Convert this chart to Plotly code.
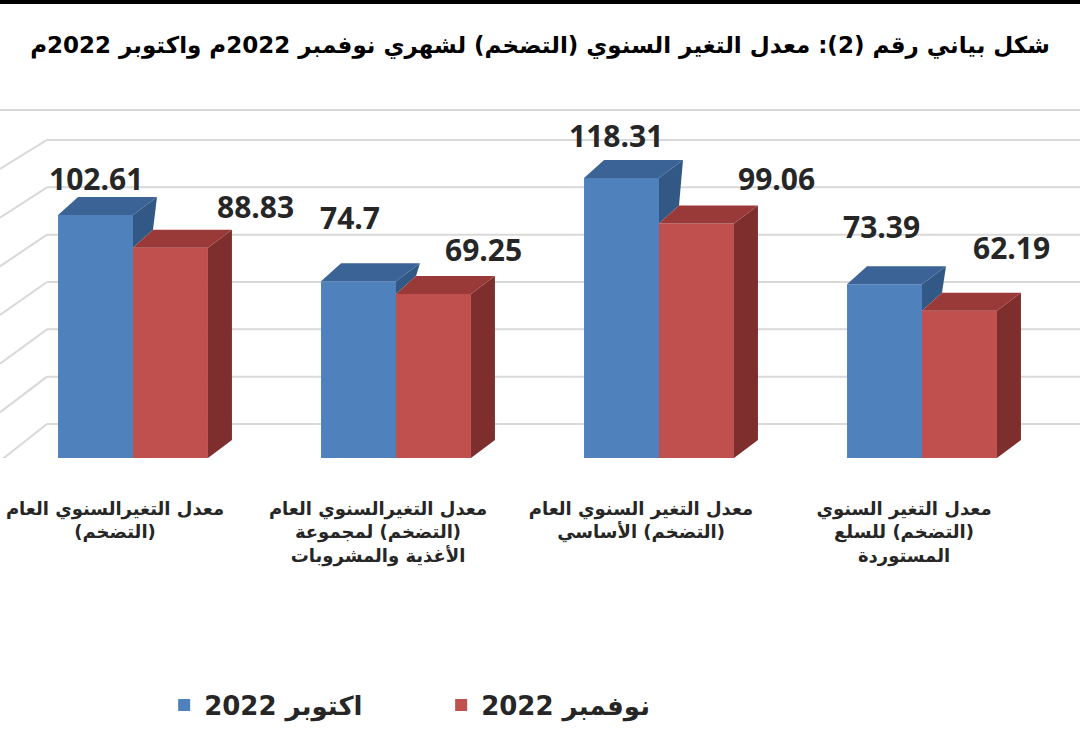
import plotly.graph_objects as go

# ---------------- data ----------------
categories = [
    "معدل التغيرالسنوي العام<br>(التضخم)",
    "معدل التغيرالسنوي العام<br>(التضخم) لمجموعة<br>الأغذية والمشروبات",
    "معدل التغير السنوي العام<br>(التضخم) الأساسي",
    "معدل التغير السنوي<br>(التضخم) للسلع<br>المستوردة",
]
oct_2022 = [102.61, 74.7, 118.31, 73.39]
nov_2022 = [88.83, 69.25, 99.06, 62.19]
series_names = ["اكتوبر 2022", "نوفمبر 2022"]
wall_ticks = [0, 20, 40, 60, 80, 100, 120]
title_text = "شكل بياني رقم (2): معدل التغير السنوي (التضخم) لشهري نوفمبر 2022م واكتوبر 2022م"

# ---------------- geometry / style ----------------
W, H = 1080, 751
PLOT_TOP, PLOT_BOTTOM = 110, 458
PX_PER_X = 263.0          # pixels per category
X0_PX = 133.0             # pixel of first category center
PX_PER_Y = 2.367          # pixels per value unit
BARGAP = 0.43
bar_w = (1 - BARGAP) / 2

x_range = [-X0_PX / PX_PER_X, (W - X0_PX) / PX_PER_X]
y_range = [0, (PLOT_BOTTOM - PLOT_TOP) / PX_PER_Y]

dxl = 20 / PX_PER_X   # depth offset (left edge of top face)
dxr = 24 / PX_PER_X   # depth offset (right edges)
dz = 18 / PX_PER_Y    # depth offset upward

wall_dz = 34 / PX_PER_Y
wall_left = (47 - X0_PX) / PX_PER_X

BLUE, BLUE_TOP, BLUE_SIDE = "#4F81BD", "#3B6396", "#325886"
RED, RED_TOP, RED_SIDE = "#C0504D", "#9A3A38", "#7E2E2D"
GRID = "#D9D9D9"
TEXT = "#262626"
RLM = "\u200f"


def rtl(label):
    return "<br>".join(f"{RLM}{line}{RLM}" for line in label.split("<br>"))


fig = go.Figure()

idx = list(range(len(categories)))

fig.add_trace(go.Bar(x=idx, y=oct_2022, name=f"<b>{series_names[0]}</b>",
                     marker=dict(color=BLUE, line=dict(width=0))))
fig.add_trace(go.Bar(x=idx, y=nov_2022, name=f"<b>{series_names[1]}</b>",
                     marker=dict(color=RED, line=dict(width=0))))


def poly(xs, ys, color):
    fig.add_trace(go.Scatter(x=xs + [xs[0]], y=ys + [ys[0]], mode="lines", fill="toself",
                             fillcolor=color, line=dict(width=0, color=color),
                             hoverinfo="skip", showlegend=False))


for i, (b, r) in enumerate(zip(oct_2022, nov_2022)):
    bl, br = i - bar_w, i
    rl, rr = i, i + bar_w
    low = min(b, r)
    poly([br, br + dxl, br + dxr, br], [low, low + dz, b + dz, b], BLUE_SIDE)
    poly([bl, br, br + dxr, bl + dxl], [b, b, b + dz, b + dz], BLUE_TOP)
    poly([rr, rr + dxr, rr + dxr, rr], [0, dz, r + dz, r], RED_SIDE)
    poly([rl, rr, rr + dxr, rl + dxl], [r, r, r + dz, r + dz], RED_TOP)

# back wall gridlines (below the bars)
shapes = []
for v in wall_ticks:
    yv = v + wall_dz
    frac = (v - wall_ticks[0]) / (wall_ticks[-1] - wall_ticks[0])
    drop = (37 - 8 * frac) / PX_PER_Y
    shapes.append(dict(type="line", xref="x", yref="y", layer="below",
                       x0=wall_left, y0=yv, x1=x_range[1], y1=yv,
                       line=dict(color=GRID, width=2)))
    shapes.append(dict(type="line", xref="x", yref="y", layer="below",
                       x0=wall_left, y0=yv, x1=x_range[0], y1=yv - drop,
                       line=dict(color=GRID, width=2)))
shapes.append(dict(type="line", xref="paper", yref="paper", x0=0, x1=1, y0=1, y1=1,
                   line=dict(color=GRID, width=2)))
shapes.append(dict(type="rect", xref="paper", yref="paper", x0=0, x1=1,
                   y0=1 + (PLOT_TOP - 4) / (PLOT_BOTTOM - PLOT_TOP), y1=1 + PLOT_TOP / (PLOT_BOTTOM - PLOT_TOP),
                   fillcolor="black", line=dict(width=0)))

# data labels
blue_dx = [0, -9, -6, -3]
blue_dy = [14, 41, 20, 35]
red_dx = [85, 50, 80, 52]
red_dy = [19, 22, 23, 41]
annotations = []
for i, (b, r) in enumerate(zip(oct_2022, nov_2022)):
    annotations.append(dict(x=i - bar_w / 2, y=b, xref="x", yref="y", text=f"<b>{b:g}</b>",
                            showarrow=False, yanchor="bottom", xshift=blue_dx[i], yshift=blue_dy[i],
                            font=dict(family="Open Sans", size=30, color=TEXT)))
    annotations.append(dict(x=i + bar_w / 2, y=r, xref="x", yref="y", text=f"<b>{r:g}</b>",
                            showarrow=False, yanchor="bottom", xshift=red_dx[i], yshift=red_dy[i],
                            font=dict(family="Open Sans", size=30, color=TEXT)))

label_shift = 18 / PX_PER_X

fig.update_layout(
    width=W, height=H,
    margin=dict(l=0, r=0, t=PLOT_TOP, b=H - PLOT_BOTTOM, pad=0, autoexpand=False),
    paper_bgcolor="white", plot_bgcolor="white",
    barmode="group", bargap=BARGAP, bargroupgap=0,
    title=dict(text=f"<b>{RLM}{title_text}{RLM}</b>", x=0.5, xanchor="center", y=1 - 45 / H, yanchor="middle",
               font=dict(family="DejaVu Sans", size=23, color="black")),
    xaxis=dict(range=x_range, showgrid=False, zeroline=False, showline=False, automargin=False,
               tickmode="array", tickvals=[i - label_shift for i in idx],
               ticktext=[f"<b>{rtl(c)}</b>" for c in categories], ticks="",
               ticklabelstandoff=38, ticklabeloverflow="allow",
               tickfont=dict(family="DejaVu Sans", size=18, color=TEXT)),
    yaxis=dict(range=y_range, showgrid=False, zeroline=False, showline=False, automargin=False,
               showticklabels=False, ticks=""),
    legend=dict(orientation="h", x=0.152, xanchor="left", y=(PLOT_BOTTOM - 705) / (PLOT_BOTTOM - PLOT_TOP),
                yanchor="middle", entrywidth=232, traceorder="normal",
                font=dict(family="DejaVu Sans", size=26, color=TEXT)),
    shapes=shapes, annotations=annotations,
    showlegend=True,
)

fig.write_html("out.html")
